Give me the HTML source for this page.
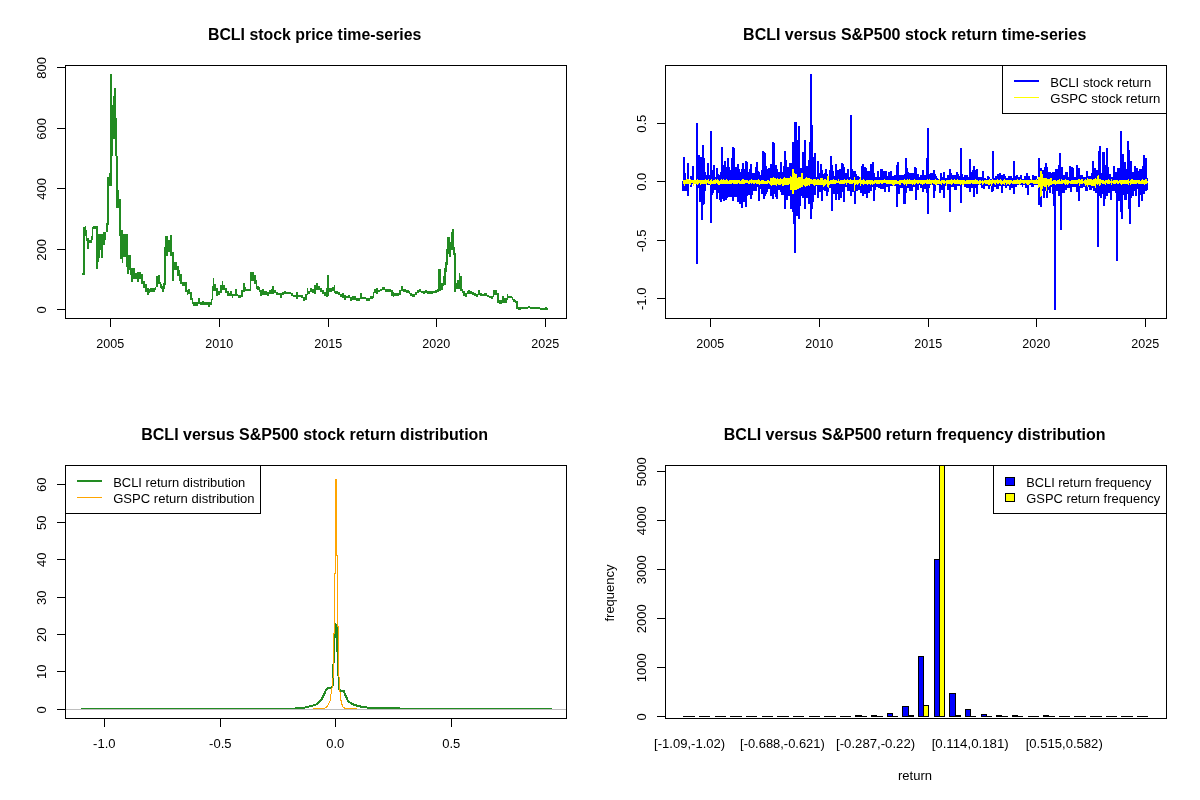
<!DOCTYPE html>
<html lang="en"><head><meta charset="utf-8"><title>BCLI versus S&amp;P500</title>
<style>
html,body{margin:0;padding:0;background:#fff;}
body{width:1200px;height:800px;overflow:hidden;}
svg{display:block;}
text{font-family:"Liberation Sans",Arial,sans-serif;fill:#000;}
.ax{font-size:13px;}
.ti{font-size:15.94px;font-weight:bold;}
</style></head><body>
<svg width="1200" height="800" viewBox="0 0 1200 800">
<rect x="0" y="0" width="1200" height="800" fill="#fff"/>
<g shape-rendering="crispEdges">
<path fill="#228B22" d="M82 273h1v2h-1zM83 227h2v48h-2zM85 226h1v10h-1zM86 230h1v11h-1zM87 238h2v11h-2zM89 240h2v3h-2zM91 236h1v7h-1zM92 227h1v13h-1zM93 226h4v3h-4zM96 226h2v43h-2zM98 234h1v28h-1zM99 234h1v24h-1zM100 234h1v16h-1zM101 234h2v24h-2zM103 232h2v13h-2zM105 232h1v8h-1zM106 223h2v9h-2zM107 177h2v48h-2zM109 173h3v13h-3zM110 74h2v99h-2zM112 105h1v51h-1zM113 96h1v43h-1zM114 88h2v51h-2zM115 139h1v17h-1zM116 118h1v38h-1zM116 156h2v34h-2zM116 190h3v18h-3zM119 199h2v37h-2zM120 230h2v29h-2zM122 230h1v33h-1zM123 234h4v23h-4zM126 234h2v33h-2zM127 255h2v19h-2zM129 255h2v15h-2zM130 262h1v13h-1zM131 268h2v14h-2zM133 268h2v11h-2zM135 273h2v6h-2zM137 272h2v10h-2zM139 272h2v7h-2zM141 274h2v10h-2zM143 281h2v7h-2zM145 284h2v8h-2zM147 288h2v7h-2zM149 289h1v4h-1zM150 288h5v4h-5zM155 287h1v3h-1zM156 276h2v11h-2zM158 275h2v9h-2zM160 282h1v6h-1zM161 284h1v5h-1zM162 286h2v6h-2zM163 283h2v6h-2zM164 247h2v38h-2zM165 236h3v20h-3zM168 240h2v12h-2zM170 235h2v21h-2zM172 252h2v29h-2zM174 262h3v8h-3zM177 266h2v10h-2zM179 270h1v11h-1zM180 274h2v10h-2zM182 282h3v4h-3zM185 282h2v10h-2zM187 290h1v5h-1zM188 289h2v5h-2zM190 292h2v8h-2zM192 298h1v6h-1zM193 302h5v4h-5zM198 298h2v6h-2zM200 302h8v3h-8zM202 301h2v3h-2zM208 302h2v5h-2zM210 302h1v3h-1zM211 299h1v6h-1zM212 286h1v14h-1zM213 278h1v13h-1zM214 284h2v7h-2zM216 288h2v8h-2zM218 291h2v4h-2zM220 285h2v8h-2zM222 281h1v9h-1zM223 285h2v5h-2zM225 288h2v5h-2zM227 291h2v5h-2zM229 293h2v3h-2zM230 291h2v5h-2zM232 294h1v4h-1zM233 294h2v2h-2zM235 289h2v7h-2zM237 294h1v2h-1zM238 295h3v3h-3zM241 290h2v7h-2zM243 283h2v9h-2zM245 287h1v4h-1zM246 289h4v2h-4zM250 272h1v19h-1zM251 272h3v9h-3zM254 275h2v9h-2zM256 280h1v9h-1zM257 286h2v4h-2zM259 287h1v5h-1zM260 290h2v6h-2zM262 289h2v6h-2zM264 291h3v4h-3zM267 292h2v4h-2zM269 290h2v4h-2zM271 289h1v5h-1zM272 286h2v8h-2zM274 290h2v3h-2zM276 292h2v3h-2zM278 293h2v2h-2zM280 293h2v5h-2zM282 292h2v3h-2zM284 291h2v3h-2zM286 292h5v2h-5zM291 293h2v3h-2zM293 295h3v2h-3zM296 292h2v7h-2zM298 295h3v2h-3zM301 295h2v3h-2zM303 297h2v4h-2zM305 294h2v6h-2zM307 288h1v7h-1zM308 291h2v3h-2zM310 288h2v4h-2zM312 289h2v4h-2zM314 285h2v9h-2zM316 283h2v7h-2zM318 286h2v4h-2zM320 288h2v4h-2zM322 290h2v4h-2zM324 292h2v4h-2zM326 288h2v9h-2zM327 275h2v21h-2zM329 288h3v4h-3zM332 287h2v4h-2zM334 285h1v8h-1zM335 291h3v3h-3zM338 292h2v3h-2zM340 294h2v3h-2zM342 293h2v5h-2zM344 295h2v5h-2zM346 296h2v2h-2zM348 295h2v3h-2zM350 297h2v4h-2zM352 296h4v4h-4zM356 298h4v3h-4zM360 293h2v6h-2zM362 297h4v2h-4zM366 298h4v3h-4zM370 296h3v3h-3zM373 292h1v6h-1zM374 289h2v4h-2zM376 288h2v6h-2zM378 290h2v2h-2zM380 289h2v2h-2zM382 287h3v3h-3zM385 289h6v3h-6zM391 290h2v6h-2zM393 292h1v5h-1zM394 293h2v3h-2zM396 293h3v3h-3zM399 290h2v5h-2zM401 286h2v5h-2zM403 289h3v3h-3zM406 290h3v3h-3zM409 291h1v3h-1zM410 293h2v3h-2zM412 294h3v3h-3zM415 292h2v3h-2zM417 290h2v3h-2zM419 289h2v3h-2zM421 291h2v2h-2zM423 291h2v3h-2zM425 290h2v3h-2zM427 291h4v3h-4zM431 291h2v3h-2zM433 291h2v2h-2zM435 290h2v3h-2zM437 289h2v3h-2zM438 269h3v22h-3zM441 283h2v7h-2zM443 276h1v10h-1zM444 268h2v17h-2zM445 262h2v10h-2zM446 249h2v16h-2zM447 237h3v17h-3zM449 242h2v15h-2zM451 232h2v18h-2zM452 229h2v18h-2zM453 247h2v8h-2zM454 253h2v39h-2zM456 283h2v6h-2zM457 280h2v9h-2zM459 273h1v16h-1zM460 276h2v15h-2zM462 289h1v4h-1zM463 291h2v5h-2zM465 293h2v4h-2zM467 291h1v3h-1zM468 290h2v4h-2zM470 291h2v3h-2zM472 292h2v3h-2zM474 293h2v3h-2zM476 294h2v3h-2zM478 290h2v5h-2zM480 293h2v3h-2zM482 294h2v2h-2zM484 293h3v3h-3zM487 295h2v2h-2zM489 296h2v2h-2zM491 296h2v3h-2zM493 290h1v7h-1zM494 290h3v5h-3zM497 293h2v10h-2zM499 300h3v4h-3zM502 296h2v7h-2zM504 298h3v5h-3zM507 294h1v6h-1zM508 296h4v2h-4zM512 297h1v3h-1zM513 299h2v3h-2zM515 300h1v3h-1zM516 301h2v8h-2zM518 307h3v3h-3zM521 307h7v2h-7zM528 306h2v2h-2zM530 307h10v2h-10zM540 308h8v2h-8zM545 307h2v3h-2z"/>
<rect x="65.5" y="65.5" width="501" height="253" fill="none" stroke="#000" stroke-width="1"/>
<rect x="57" y="309" width="9" height="1" fill="#000"/>
<text class="ax" transform="translate(46.4 309.8) rotate(-90)" text-anchor="middle">0</text>
<rect x="57" y="249" width="9" height="1" fill="#000"/>
<text class="ax" transform="translate(46.4 249.8) rotate(-90)" text-anchor="middle">200</text>
<rect x="57" y="188" width="9" height="1" fill="#000"/>
<text class="ax" transform="translate(46.4 188.8) rotate(-90)" text-anchor="middle">400</text>
<rect x="57" y="128" width="9" height="1" fill="#000"/>
<text class="ax" transform="translate(46.4 128.8) rotate(-90)" text-anchor="middle">600</text>
<rect x="57" y="67" width="9" height="1" fill="#000"/>
<text class="ax" transform="translate(46.4 67.8) rotate(-90)" text-anchor="middle">800</text>
<rect x="110" y="318" width="1" height="9" fill="#000"/>
<text class="ax" x="110.3" y="347.9" text-anchor="middle" textLength="27.9" lengthAdjust="spacingAndGlyphs">2005</text>
<rect x="219" y="318" width="1" height="9" fill="#000"/>
<text class="ax" x="219.3" y="347.9" text-anchor="middle" textLength="27.9" lengthAdjust="spacingAndGlyphs">2010</text>
<rect x="328" y="318" width="1" height="9" fill="#000"/>
<text class="ax" x="328.3" y="347.9" text-anchor="middle" textLength="27.9" lengthAdjust="spacingAndGlyphs">2015</text>
<rect x="436" y="318" width="1" height="9" fill="#000"/>
<text class="ax" x="436.3" y="347.9" text-anchor="middle" textLength="27.9" lengthAdjust="spacingAndGlyphs">2020</text>
<rect x="545" y="318" width="1" height="9" fill="#000"/>
<text class="ax" x="545.3" y="347.9" text-anchor="middle" textLength="27.9" lengthAdjust="spacingAndGlyphs">2025</text>
<path fill="#0000FF" d="M682 181h1v10h-1zM683 157h1v34h-1zM684 157h1v34h-1zM685 173h1v18h-1zM686 180h1v11h-1zM687 163h1v33h-1zM688 163h1v33h-1zM689 180h1v3h-1zM690 176h1v11h-1zM691 176h1v11h-1zM692 166h1v18h-1zM693 166h1v18h-1zM694 180h1v4h-1zM695 180h1v4h-1zM696 123h1v141h-1zM697 123h1v141h-1zM698 155h1v33h-1zM699 155h1v47h-1zM700 157h1v45h-1zM701 157h1v63h-1zM702 145h1v75h-1zM703 145h1v60h-1zM704 158h1v46h-1zM705 172h1v19h-1zM706 175h1v10h-1zM707 163h1v22h-1zM708 163h1v22h-1zM709 175h1v10h-1zM710 131h1v92h-1zM711 131h1v92h-1zM712 170h1v25h-1zM713 165h1v28h-1zM714 165h1v25h-1zM715 177h1v13h-1zM716 168h1v31h-1zM717 168h1v31h-1zM718 174h1v19h-1zM719 175h1v25h-1zM720 172h1v30h-1zM721 147h1v55h-1zM722 147h1v52h-1zM723 165h1v36h-1zM724 161h1v40h-1zM725 161h1v39h-1zM726 167h1v33h-1zM727 158h1v40h-1zM728 158h1v39h-1zM729 167h1v30h-1zM730 170h1v27h-1zM731 158h1v39h-1zM732 147h1v54h-1zM733 147h1v54h-1zM734 148h1v49h-1zM735 167h1v30h-1zM736 167h1v30h-1zM737 164h1v38h-1zM738 164h1v38h-1zM739 169h1v35h-1zM740 172h1v32h-1zM741 169h1v39h-1zM742 163h1v45h-1zM743 163h1v39h-1zM744 169h1v33h-1zM745 161h1v46h-1zM746 161h1v46h-1zM747 162h1v34h-1zM748 172h1v23h-1zM749 169h1v26h-1zM750 164h1v35h-1zM751 164h1v35h-1zM752 173h1v22h-1zM753 173h1v18h-1zM754 173h1v18h-1zM755 167h1v24h-1zM756 162h1v29h-1zM757 162h1v25h-1zM758 171h1v30h-1zM759 172h1v29h-1zM760 175h1v14h-1zM761 170h1v24h-1zM762 151h1v43h-1zM763 151h1v48h-1zM764 152h1v47h-1zM765 153h1v43h-1zM766 166h1v28h-1zM767 169h1v23h-1zM768 168h1v21h-1zM769 168h1v21h-1zM770 164h1v32h-1zM771 164h1v32h-1zM772 142h1v57h-1zM773 142h1v57h-1zM774 143h1v51h-1zM775 165h1v32h-1zM776 165h1v34h-1zM777 169h1v30h-1zM778 172h1v18h-1zM779 172h1v18h-1zM780 162h1v30h-1zM781 162h1v33h-1zM782 172h1v23h-1zM783 166h1v29h-1zM784 151h1v58h-1zM785 151h1v58h-1zM786 160h1v40h-1zM787 167h1v33h-1zM788 167h1v29h-1zM789 163h1v33h-1zM790 163h1v46h-1zM791 163h1v46h-1zM792 142h1v70h-1zM793 142h1v82h-1zM794 122h1v131h-1zM795 122h1v131h-1zM796 122h1v94h-1zM797 140h1v76h-1zM798 126h1v93h-1zM799 126h1v93h-1zM800 168h1v38h-1zM801 168h1v28h-1zM802 152h1v46h-1zM803 152h1v46h-1zM804 140h1v69h-1zM805 140h1v69h-1zM806 166h1v32h-1zM807 166h1v32h-1zM808 160h1v44h-1zM809 142h1v62h-1zM810 74h1v145h-1zM811 74h1v145h-1zM812 125h1v84h-1zM813 157h1v45h-1zM814 153h1v42h-1zM815 153h1v42h-1zM816 177h1v9h-1zM817 161h1v37h-1zM818 161h1v37h-1zM819 173h1v19h-1zM820 164h1v28h-1zM821 164h1v37h-1zM822 170h1v31h-1zM823 174h1v16h-1zM824 173h1v18h-1zM825 169h1v22h-1zM826 169h1v27h-1zM827 174h1v22h-1zM828 176h1v16h-1zM829 170h1v18h-1zM830 156h1v32h-1zM831 156h1v55h-1zM832 165h1v46h-1zM833 171h1v23h-1zM834 176h1v18h-1zM835 164h1v36h-1zM836 164h1v36h-1zM837 170h1v24h-1zM838 170h1v30h-1zM839 169h1v31h-1zM840 169h1v29h-1zM841 163h1v35h-1zM842 163h1v29h-1zM843 164h1v38h-1zM844 167h1v35h-1zM845 173h1v14h-1zM846 173h1v14h-1zM847 169h1v22h-1zM848 169h1v22h-1zM849 177h1v14h-1zM850 115h1v81h-1zM851 115h1v81h-1zM852 169h1v23h-1zM853 171h1v21h-1zM854 171h1v33h-1zM855 171h1v33h-1zM856 174h1v17h-1zM857 176h1v15h-1zM858 176h1v14h-1zM859 177h1v13h-1zM860 177h1v16h-1zM861 166h1v27h-1zM862 164h1v32h-1zM863 164h1v32h-1zM864 167h1v27h-1zM865 167h1v27h-1zM866 168h1v30h-1zM867 171h1v27h-1zM868 171h1v22h-1zM869 171h1v22h-1zM870 164h1v27h-1zM871 164h1v27h-1zM872 162h1v25h-1zM873 162h1v39h-1zM874 173h1v28h-1zM875 177h1v13h-1zM876 177h1v10h-1zM877 171h1v16h-1zM878 171h1v17h-1zM879 177h1v11h-1zM880 169h1v20h-1zM881 169h1v20h-1zM882 169h1v20h-1zM883 171h1v18h-1zM884 171h1v21h-1zM885 171h1v21h-1zM886 171h1v16h-1zM887 176h1v11h-1zM888 172h1v20h-1zM889 172h1v20h-1zM890 171h1v15h-1zM891 171h1v15h-1zM892 176h1v10h-1zM893 176h1v10h-1zM894 175h1v11h-1zM895 175h1v11h-1zM896 165h1v42h-1zM897 162h1v45h-1zM898 162h1v32h-1zM899 175h1v19h-1zM900 175h1v13h-1zM901 175h1v13h-1zM902 175h1v13h-1zM903 175h1v29h-1zM904 174h1v30h-1zM905 158h1v46h-1zM906 158h1v35h-1zM907 168h1v20h-1zM908 172h1v16h-1zM909 173h1v18h-1zM910 173h1v18h-1zM911 173h1v18h-1zM912 173h1v18h-1zM913 173h1v14h-1zM914 167h1v20h-1zM915 167h1v33h-1zM916 168h1v32h-1zM917 174h1v16h-1zM918 174h1v16h-1zM919 177h1v8h-1zM920 175h1v13h-1zM921 175h1v13h-1zM922 170h1v22h-1zM923 170h1v22h-1zM924 175h1v14h-1zM925 175h1v14h-1zM926 158h1v35h-1zM927 128h1v86h-1zM928 128h1v86h-1zM929 174h1v14h-1zM930 173h1v12h-1zM931 173h1v12h-1zM932 173h1v12h-1zM933 170h1v28h-1zM934 170h1v28h-1zM935 174h1v17h-1zM936 176h1v9h-1zM937 178h1v7h-1zM938 179h1v6h-1zM939 179h1v14h-1zM940 173h1v20h-1zM941 173h1v17h-1zM942 177h1v13h-1zM943 172h1v26h-1zM944 172h1v26h-1zM945 178h1v8h-1zM946 178h1v8h-1zM947 175h1v15h-1zM948 175h1v15h-1zM949 169h1v43h-1zM950 169h1v43h-1zM951 173h1v14h-1zM952 175h1v12h-1zM953 175h1v12h-1zM954 175h1v15h-1zM955 175h1v15h-1zM956 172h1v18h-1zM957 172h1v14h-1zM958 174h1v12h-1zM959 176h1v10h-1zM960 148h1v55h-1zM961 148h1v55h-1zM962 174h1v11h-1zM963 177h1v8h-1zM964 175h1v12h-1zM965 175h1v12h-1zM966 175h1v13h-1zM967 175h1v13h-1zM968 177h1v11h-1zM969 159h1v33h-1zM970 159h1v33h-1zM971 172h1v16h-1zM972 170h1v18h-1zM973 166h1v31h-1zM974 166h1v31h-1zM975 170h1v18h-1zM976 169h1v25h-1zM977 169h1v25h-1zM978 177h1v8h-1zM979 177h1v8h-1zM980 177h1v8h-1zM981 177h1v11h-1zM982 171h1v17h-1zM983 171h1v18h-1zM984 178h1v11h-1zM985 178h1v8h-1zM986 179h1v7h-1zM987 176h1v10h-1zM988 176h1v13h-1zM989 177h1v12h-1zM990 179h1v7h-1zM991 179h1v13h-1zM992 151h1v41h-1zM993 151h1v40h-1zM994 178h1v9h-1zM995 176h1v11h-1zM996 176h1v13h-1zM997 174h1v15h-1zM998 174h1v15h-1zM999 173h1v13h-1zM1000 173h1v13h-1zM1001 175h1v18h-1zM1002 175h1v18h-1zM1003 174h1v12h-1zM1004 174h1v12h-1zM1005 176h1v12h-1zM1006 178h1v10h-1zM1007 178h1v8h-1zM1008 176h1v10h-1zM1009 176h1v14h-1zM1010 176h1v14h-1zM1011 176h1v12h-1zM1012 178h1v10h-1zM1013 161h1v33h-1zM1014 161h1v33h-1zM1015 176h1v11h-1zM1016 175h1v12h-1zM1017 175h1v10h-1zM1018 177h1v8h-1zM1019 177h1v8h-1zM1020 175h1v10h-1zM1021 175h1v10h-1zM1022 179h1v8h-1zM1023 179h1v6h-1zM1024 176h1v9h-1zM1025 176h1v12h-1zM1026 173h1v15h-1zM1027 173h1v22h-1zM1028 176h1v19h-1zM1029 176h1v9h-1zM1030 179h1v6h-1zM1031 179h1v8h-1zM1032 175h1v12h-1zM1033 175h1v12h-1zM1034 176h1v9h-1zM1035 176h1v9h-1zM1036 176h1v9h-1zM1037 179h1v6h-1zM1038 158h1v47h-1zM1039 158h1v47h-1zM1040 168h1v39h-1zM1041 168h1v39h-1zM1042 170h1v21h-1zM1043 170h1v28h-1zM1044 167h1v31h-1zM1045 163h1v28h-1zM1046 163h1v35h-1zM1047 167h1v31h-1zM1048 172h1v18h-1zM1049 172h1v21h-1zM1050 172h1v21h-1zM1051 173h1v14h-1zM1052 172h1v22h-1zM1053 172h1v34h-1zM1054 172h1v138h-1zM1055 169h1v141h-1zM1056 169h1v22h-1zM1057 169h1v22h-1zM1058 165h1v31h-1zM1059 153h1v43h-1zM1060 153h1v77h-1zM1061 167h1v63h-1zM1062 167h1v26h-1zM1063 175h1v18h-1zM1064 175h1v18h-1zM1065 172h1v18h-1zM1066 172h1v18h-1zM1067 172h1v16h-1zM1068 177h1v11h-1zM1069 166h1v22h-1zM1070 166h1v26h-1zM1071 167h1v25h-1zM1072 167h1v20h-1zM1073 168h1v19h-1zM1074 177h1v10h-1zM1075 177h1v10h-1zM1076 165h1v27h-1zM1077 165h1v27h-1zM1078 168h1v33h-1zM1079 168h1v33h-1zM1080 175h1v13h-1zM1081 175h1v13h-1zM1082 175h1v13h-1zM1083 177h1v10h-1zM1084 177h1v10h-1zM1085 177h1v14h-1zM1086 171h1v20h-1zM1087 171h1v20h-1zM1088 176h1v11h-1zM1089 176h1v14h-1zM1090 176h1v14h-1zM1091 173h1v17h-1zM1092 161h1v27h-1zM1093 161h1v30h-1zM1094 168h1v23h-1zM1095 168h1v25h-1zM1096 170h1v23h-1zM1097 170h1v77h-1zM1098 151h1v96h-1zM1099 146h1v50h-1zM1100 146h1v52h-1zM1101 173h1v25h-1zM1102 152h1v42h-1zM1103 152h1v54h-1zM1104 152h1v54h-1zM1105 165h1v34h-1zM1106 148h1v48h-1zM1107 148h1v48h-1zM1108 167h1v26h-1zM1109 174h1v19h-1zM1110 174h1v26h-1zM1111 177h1v23h-1zM1112 177h1v14h-1zM1113 166h1v25h-1zM1114 166h1v25h-1zM1115 172h1v21h-1zM1116 172h1v89h-1zM1117 168h1v93h-1zM1118 168h1v33h-1zM1119 168h1v33h-1zM1120 131h1v81h-1zM1121 131h1v88h-1zM1122 154h1v65h-1zM1123 154h1v41h-1zM1124 162h1v38h-1zM1125 162h1v38h-1zM1126 169h1v31h-1zM1127 141h1v53h-1zM1128 141h1v68h-1zM1129 150h1v74h-1zM1130 161h1v63h-1zM1131 161h1v37h-1zM1132 172h1v24h-1zM1133 172h1v24h-1zM1134 166h1v25h-1zM1135 166h1v30h-1zM1136 168h1v28h-1zM1137 168h1v21h-1zM1138 171h1v36h-1zM1139 169h1v38h-1zM1140 169h1v26h-1zM1141 169h1v32h-1zM1142 166h1v35h-1zM1143 155h1v39h-1zM1144 155h1v39h-1zM1145 158h1v33h-1zM1146 158h1v33h-1zM1147 178h1v12h-1z"/>
<path fill="#FFFF00" d="M683 180h1v4h-1zM684 180h1v6h-1zM685 180h1v4h-1zM686 179h1v5h-1zM687 179h1v5h-1zM688 179h1v5h-1zM689 180h1v4h-1zM690 179h1v6h-1zM691 180h1v3h-1zM692 180h1v3h-1zM693 180h1v6h-1zM694 180h1v4h-1zM695 180h1v4h-1zM696 180h1v4h-1zM697 179h1v6h-1zM698 180h1v4h-1zM699 180h1v3h-1zM700 180h1v5h-1zM701 180h1v4h-1zM702 180h1v4h-1zM703 180h1v4h-1zM704 180h1v4h-1zM705 179h1v5h-1zM706 180h1v5h-1zM707 180h1v3h-1zM708 179h1v5h-1zM709 181h1v3h-1zM710 180h1v5h-1zM711 179h1v5h-1zM712 181h1v3h-1zM713 180h1v4h-1zM714 180h1v4h-1zM715 179h1v5h-1zM716 180h1v3h-1zM717 179h1v5h-1zM718 180h1v5h-1zM719 181h1v4h-1zM720 180h1v4h-1zM721 179h1v5h-1zM722 180h1v4h-1zM723 179h1v5h-1zM724 180h1v4h-1zM725 180h1v4h-1zM726 179h1v5h-1zM727 180h1v4h-1zM728 181h1v3h-1zM729 180h1v4h-1zM730 180h1v4h-1zM731 180h1v4h-1zM732 180h1v3h-1zM733 180h1v4h-1zM734 180h1v4h-1zM735 180h1v4h-1zM736 180h1v4h-1zM737 180h1v4h-1zM738 180h1v3h-1zM739 180h1v4h-1zM740 181h1v3h-1zM741 180h1v4h-1zM742 179h1v5h-1zM743 179h1v5h-1zM744 180h1v4h-1zM745 180h1v3h-1zM746 180h1v3h-1zM747 180h1v3h-1zM748 181h1v3h-1zM749 180h1v4h-1zM750 180h1v3h-1zM751 179h1v5h-1zM752 180h1v3h-1zM753 180h1v4h-1zM754 180h1v4h-1zM755 180h1v3h-1zM756 180h1v4h-1zM757 180h1v4h-1zM758 179h1v5h-1zM759 180h1v5h-1zM760 181h1v3h-1zM761 180h1v4h-1zM762 180h1v4h-1zM763 180h1v4h-1zM764 181h1v3h-1zM765 181h1v3h-1zM766 181h1v3h-1zM767 180h1v4h-1zM768 180h1v3h-1zM769 181h1v3h-1zM770 178h1v7h-1zM771 178h1v8h-1zM772 178h1v7h-1zM773 177h1v8h-1zM774 178h1v7h-1zM775 178h1v7h-1zM776 179h1v7h-1zM777 178h1v6h-1zM778 179h1v6h-1zM779 179h1v6h-1zM780 178h1v7h-1zM781 179h1v5h-1zM782 179h1v7h-1zM783 178h1v8h-1zM784 177h1v8h-1zM785 178h1v7h-1zM786 178h1v7h-1zM787 178h1v7h-1zM788 178h1v7h-1zM789 178h1v6h-1zM790 176h1v14h-1zM791 177h1v13h-1zM792 169h1v25h-1zM793 169h1v25h-1zM794 173h1v17h-1zM795 174h1v16h-1zM796 174h1v16h-1zM797 178h1v11h-1zM798 177h1v12h-1zM799 177h1v11h-1zM800 177h1v11h-1zM801 173h1v14h-1zM802 173h1v14h-1zM803 179h1v6h-1zM804 179h1v7h-1zM805 178h1v9h-1zM806 177h1v9h-1zM807 178h1v8h-1zM808 178h1v7h-1zM809 178h1v8h-1zM810 179h1v5h-1zM811 179h1v5h-1zM812 180h1v4h-1zM813 179h1v6h-1zM814 179h1v7h-1zM815 179h1v6h-1zM816 180h1v5h-1zM817 179h1v6h-1zM818 179h1v6h-1zM819 180h1v5h-1zM820 178h1v7h-1zM821 178h1v7h-1zM822 178h1v7h-1zM823 180h1v7h-1zM824 179h1v7h-1zM825 179h1v6h-1zM826 180h1v4h-1zM827 176h1v11h-1zM828 176h1v12h-1zM829 181h1v4h-1zM830 180h1v4h-1zM831 180h1v4h-1zM832 180h1v4h-1zM833 179h1v5h-1zM834 180h1v4h-1zM835 180h1v4h-1zM836 180h1v3h-1zM837 181h1v2h-1zM838 179h1v4h-1zM839 181h1v3h-1zM840 180h1v4h-1zM841 180h1v4h-1zM842 180h1v4h-1zM843 180h1v4h-1zM844 179h1v5h-1zM845 180h1v3h-1zM846 180h1v5h-1zM847 179h1v4h-1zM848 180h1v3h-1zM849 180h1v4h-1zM850 179h1v5h-1zM851 180h1v4h-1zM852 180h1v4h-1zM853 180h1v3h-1zM854 177h1v14h-1zM855 180h1v5h-1zM856 180h1v4h-1zM857 180h1v5h-1zM858 180h1v4h-1zM859 179h1v4h-1zM860 177h1v9h-1zM861 180h1v4h-1zM862 180h1v4h-1zM863 179h1v6h-1zM864 180h1v4h-1zM865 181h1v3h-1zM866 180h1v4h-1zM867 180h1v5h-1zM868 180h1v4h-1zM869 180h1v4h-1zM870 180h1v5h-1zM871 180h1v4h-1zM872 180h1v5h-1zM873 181h1v3h-1zM874 180h1v4h-1zM875 180h1v3h-1zM876 180h1v4h-1zM877 180h1v4h-1zM878 180h1v4h-1zM879 180h1v4h-1zM880 180h1v3h-1zM881 180h1v4h-1zM882 180h1v4h-1zM883 180h1v3h-1zM884 179h1v4h-1zM885 180h1v3h-1zM886 180h1v4h-1zM887 180h1v4h-1zM888 180h1v4h-1zM889 180h1v4h-1zM890 180h1v4h-1zM891 180h1v4h-1zM892 180h1v5h-1zM893 180h1v6h-1zM894 180h1v5h-1zM895 180h1v4h-1zM896 180h1v4h-1zM897 181h1v3h-1zM898 181h1v3h-1zM899 180h1v5h-1zM900 180h1v5h-1zM901 180h1v3h-1zM902 180h1v3h-1zM903 180h1v4h-1zM904 179h1v6h-1zM905 180h1v4h-1zM906 180h1v6h-1zM907 179h1v5h-1zM908 180h1v4h-1zM909 179h1v5h-1zM910 180h1v4h-1zM911 180h1v4h-1zM912 180h1v5h-1zM913 180h1v4h-1zM914 179h1v6h-1zM915 180h1v4h-1zM916 180h1v3h-1zM917 180h1v4h-1zM918 180h1v4h-1zM919 180h1v3h-1zM920 180h1v4h-1zM921 180h1v4h-1zM922 180h1v5h-1zM923 180h1v4h-1zM924 180h1v4h-1zM925 180h1v3h-1zM926 180h1v4h-1zM927 179h1v5h-1zM928 180h1v4h-1zM929 179h1v5h-1zM930 180h1v4h-1zM931 180h1v5h-1zM932 180h1v3h-1zM933 180h1v4h-1zM934 180h1v4h-1zM935 179h1v6h-1zM936 180h1v5h-1zM937 180h1v4h-1zM938 180h1v4h-1zM939 179h1v5h-1zM940 181h1v3h-1zM941 180h1v5h-1zM942 180h1v3h-1zM943 180h1v4h-1zM944 180h1v4h-1zM945 181h1v2h-1zM946 180h1v6h-1zM947 180h1v4h-1zM948 180h1v4h-1zM949 180h1v4h-1zM950 180h1v4h-1zM951 179h1v6h-1zM952 180h1v4h-1zM953 180h1v3h-1zM954 179h1v5h-1zM955 180h1v4h-1zM956 180h1v4h-1zM957 179h1v5h-1zM958 180h1v4h-1zM959 180h1v4h-1zM960 180h1v5h-1zM961 180h1v4h-1zM962 180h1v5h-1zM963 180h1v5h-1zM964 180h1v4h-1zM965 181h1v3h-1zM966 180h1v4h-1zM967 180h1v4h-1zM968 180h1v4h-1zM969 180h1v4h-1zM970 180h1v4h-1zM971 180h1v3h-1zM972 180h1v4h-1zM973 180h1v4h-1zM974 180h1v4h-1zM975 179h1v5h-1zM976 180h1v4h-1zM977 180h1v4h-1zM978 181h1v3h-1zM979 180h1v5h-1zM980 180h1v4h-1zM981 181h1v2h-1zM982 180h1v5h-1zM983 181h1v3h-1zM984 180h1v3h-1zM985 180h1v4h-1zM986 180h1v4h-1zM987 180h1v4h-1zM988 180h1v5h-1zM989 179h1v6h-1zM990 180h1v4h-1zM991 180h1v6h-1zM992 179h1v5h-1zM993 180h1v3h-1zM994 180h1v4h-1zM995 180h1v5h-1zM996 180h1v3h-1zM997 179h1v5h-1zM998 180h1v4h-1zM999 180h1v3h-1zM1000 179h1v5h-1zM1001 180h1v5h-1zM1002 181h1v3h-1zM1003 180h1v4h-1zM1004 179h1v6h-1zM1005 180h1v3h-1zM1006 180h1v5h-1zM1007 180h1v4h-1zM1008 180h1v4h-1zM1009 180h1v5h-1zM1010 180h1v4h-1zM1011 180h1v3h-1zM1012 181h1v3h-1zM1013 180h1v4h-1zM1014 180h1v4h-1zM1015 180h1v4h-1zM1016 180h1v4h-1zM1017 179h1v5h-1zM1018 180h1v4h-1zM1019 180h1v5h-1zM1020 179h1v5h-1zM1021 180h1v3h-1zM1022 180h1v3h-1zM1023 180h1v4h-1zM1024 180h1v4h-1zM1025 180h1v3h-1zM1026 180h1v4h-1zM1027 180h1v5h-1zM1028 180h1v5h-1zM1029 180h1v4h-1zM1030 180h1v3h-1zM1031 179h1v4h-1zM1032 180h1v3h-1zM1033 180h1v4h-1zM1034 180h1v4h-1zM1035 180h1v4h-1zM1036 179h1v5h-1zM1037 180h1v4h-1zM1038 177h1v11h-1zM1039 177h1v10h-1zM1040 171h1v26h-1zM1041 171h1v25h-1zM1042 174h1v15h-1zM1043 178h1v8h-1zM1044 178h1v9h-1zM1045 178h1v9h-1zM1046 178h1v13h-1zM1047 179h1v6h-1zM1048 179h1v8h-1zM1049 179h1v7h-1zM1050 178h1v7h-1zM1051 178h1v7h-1zM1052 181h1v3h-1zM1053 180h1v4h-1zM1054 180h1v4h-1zM1055 180h1v5h-1zM1056 181h1v3h-1zM1057 180h1v4h-1zM1058 180h1v4h-1zM1059 179h1v5h-1zM1060 181h1v3h-1zM1061 179h1v5h-1zM1062 180h1v4h-1zM1063 180h1v3h-1zM1064 180h1v4h-1zM1065 179h1v6h-1zM1066 180h1v4h-1zM1067 180h1v5h-1zM1068 180h1v4h-1zM1069 181h1v2h-1zM1070 181h1v3h-1zM1071 180h1v4h-1zM1072 180h1v4h-1zM1073 180h1v4h-1zM1074 180h1v4h-1zM1075 180h1v4h-1zM1076 180h1v4h-1zM1077 180h1v4h-1zM1078 179h1v4h-1zM1079 179h1v7h-1zM1080 180h1v4h-1zM1081 179h1v5h-1zM1082 179h1v5h-1zM1083 181h1v2h-1zM1084 180h1v4h-1zM1085 179h1v7h-1zM1086 180h1v5h-1zM1087 178h1v9h-1zM1088 179h1v6h-1zM1089 179h1v6h-1zM1090 179h1v6h-1zM1091 179h1v7h-1zM1092 180h1v6h-1zM1093 179h1v7h-1zM1094 179h1v7h-1zM1095 178h1v10h-1zM1096 179h1v5h-1zM1097 176h1v9h-1zM1098 175h1v9h-1zM1099 179h1v7h-1zM1100 179h1v6h-1zM1101 180h1v3h-1zM1102 180h1v4h-1zM1103 180h1v4h-1zM1104 181h1v3h-1zM1105 180h1v5h-1zM1106 180h1v3h-1zM1107 180h1v4h-1zM1108 179h1v5h-1zM1109 180h1v4h-1zM1110 181h1v2h-1zM1111 179h1v6h-1zM1112 181h1v2h-1zM1113 180h1v4h-1zM1114 180h1v4h-1zM1115 180h1v4h-1zM1116 180h1v3h-1zM1117 180h1v4h-1zM1118 181h1v3h-1zM1119 180h1v3h-1zM1120 180h1v4h-1zM1121 180h1v5h-1zM1122 180h1v4h-1zM1123 180h1v4h-1zM1124 180h1v4h-1zM1125 180h1v4h-1zM1126 180h1v4h-1zM1127 180h1v4h-1zM1128 179h1v6h-1zM1129 181h1v2h-1zM1130 180h1v5h-1zM1131 179h1v5h-1zM1132 179h1v5h-1zM1133 180h1v4h-1zM1134 180h1v4h-1zM1135 180h1v4h-1zM1136 180h1v4h-1zM1137 180h1v3h-1zM1138 180h1v4h-1zM1139 180h1v4h-1zM1140 181h1v3h-1zM1141 180h1v4h-1zM1142 179h1v5h-1zM1143 180h1v4h-1zM1144 180h1v5h-1zM1145 179h1v5h-1zM1146 179h1v5h-1zM1147 181h1v2h-1z"/>
<rect x="665.5" y="65.5" width="501" height="253" fill="none" stroke="#000" stroke-width="1"/>
<rect x="657" y="123" width="9" height="1" fill="#000"/>
<text class="ax" transform="translate(646.4 123.8) rotate(-90)" text-anchor="middle">0.5</text>
<rect x="657" y="181" width="9" height="1" fill="#000"/>
<text class="ax" transform="translate(646.4 181.8) rotate(-90)" text-anchor="middle">0.0</text>
<rect x="657" y="240" width="9" height="1" fill="#000"/>
<text class="ax" transform="translate(646.4 240.8) rotate(-90)" text-anchor="middle">-0.5</text>
<rect x="657" y="298" width="9" height="1" fill="#000"/>
<text class="ax" transform="translate(646.4 298.8) rotate(-90)" text-anchor="middle">-1.0</text>
<rect x="710" y="318" width="1" height="9" fill="#000"/>
<text class="ax" x="710.3" y="347.9" text-anchor="middle" textLength="27.9" lengthAdjust="spacingAndGlyphs">2005</text>
<rect x="819" y="318" width="1" height="9" fill="#000"/>
<text class="ax" x="819.3" y="347.9" text-anchor="middle" textLength="27.9" lengthAdjust="spacingAndGlyphs">2010</text>
<rect x="928" y="318" width="1" height="9" fill="#000"/>
<text class="ax" x="928.3" y="347.9" text-anchor="middle" textLength="27.9" lengthAdjust="spacingAndGlyphs">2015</text>
<rect x="1036" y="318" width="1" height="9" fill="#000"/>
<text class="ax" x="1036.3" y="347.9" text-anchor="middle" textLength="27.9" lengthAdjust="spacingAndGlyphs">2020</text>
<rect x="1145" y="318" width="1" height="9" fill="#000"/>
<text class="ax" x="1145.3" y="347.9" text-anchor="middle" textLength="27.9" lengthAdjust="spacingAndGlyphs">2025</text>
<rect x="1002.5" y="65.5" width="164" height="48" fill="#fff" stroke="#000"/>
<rect x="1014" y="80" width="25" height="2" fill="#0000FF"/>
<rect x="1014" y="97" width="25" height="1" fill="#FFFF00"/>
<text class="ax" x="1050.2" y="86.8" textLength="101" lengthAdjust="spacingAndGlyphs">BCLI stock return</text>
<text class="ax" x="1050.2" y="102.7" textLength="110.2" lengthAdjust="spacingAndGlyphs">GSPC stock return</text>
<polyline fill="none" stroke="#228B22" stroke-width="2" stroke-linejoin="round" points="80.5,708.5 295,708.5 303,708 309,706.5 315.5,705 320,701.5 322,698.5 324.5,693.5 326.5,689 329,687.7 332,687.4 333,684 333.5,664 334.6,636 335.5,624.5 336.5,626 337,640 338,664 339,688.5 340.2,691.3 343.5,690.6 345.3,695 348,701 351.5,703.7 356,705.4 362.7,707 370.6,708 400,708.5 551.5,708.5"/>
<polyline fill="none" stroke="#FFA500" stroke-width="1" stroke-linejoin="round" points="313,709 325.6,708 327.9,705.5 330.1,701 331.2,693 332.6,685 333.5,669 333.5,634 334.5,633 334.5,574 335.5,573 335.5,479.5 336.5,479.5 336.5,555 337.5,556 337.5,626 338.5,627 338.5,668 339.7,689.6 340.8,699.7 342.5,706.5 344.7,708.3 356.5,709"/>
<rect x="66" y="709" width="501" height="1" fill="#BEBEBE"/>
<rect x="65.5" y="465.5" width="501" height="253" fill="none" stroke="#000" stroke-width="1"/>
<rect x="57" y="709" width="9" height="1" fill="#000"/>
<text class="ax" transform="translate(46.4 709.8) rotate(-90)" text-anchor="middle">0</text>
<rect x="57" y="671" width="9" height="1" fill="#000"/>
<text class="ax" transform="translate(46.4 671.8) rotate(-90)" text-anchor="middle">10</text>
<rect x="57" y="634" width="9" height="1" fill="#000"/>
<text class="ax" transform="translate(46.4 634.8) rotate(-90)" text-anchor="middle">20</text>
<rect x="57" y="597" width="9" height="1" fill="#000"/>
<text class="ax" transform="translate(46.4 597.8) rotate(-90)" text-anchor="middle">30</text>
<rect x="57" y="559" width="9" height="1" fill="#000"/>
<text class="ax" transform="translate(46.4 559.8) rotate(-90)" text-anchor="middle">40</text>
<rect x="57" y="522" width="9" height="1" fill="#000"/>
<text class="ax" transform="translate(46.4 522.8) rotate(-90)" text-anchor="middle">50</text>
<rect x="57" y="484" width="9" height="1" fill="#000"/>
<text class="ax" transform="translate(46.4 484.8) rotate(-90)" text-anchor="middle">60</text>
<rect x="104" y="718" width="1" height="9" fill="#000"/>
<text class="ax" x="104.3" y="747.9" text-anchor="middle">-1.0</text>
<rect x="220" y="718" width="1" height="9" fill="#000"/>
<text class="ax" x="220.3" y="747.9" text-anchor="middle">-0.5</text>
<rect x="335" y="718" width="1" height="9" fill="#000"/>
<text class="ax" x="335.3" y="747.9" text-anchor="middle">0.0</text>
<rect x="451" y="718" width="1" height="9" fill="#000"/>
<text class="ax" x="451.3" y="747.9" text-anchor="middle">0.5</text>
<rect x="65.5" y="465.5" width="195" height="48" fill="#fff" stroke="#000"/>
<rect x="77" y="480" width="25" height="2" fill="#228B22"/>
<rect x="77" y="497" width="25" height="1" fill="#FFA500"/>
<text class="ax" x="113.2" y="487" textLength="132.1" lengthAdjust="spacingAndGlyphs">BCLI return distribution</text>
<text class="ax" x="113.2" y="503" textLength="141.4" lengthAdjust="spacingAndGlyphs">GSPC return distribution</text>
<clipPath id="c4"><rect x="665.5" y="465.5" width="501" height="253"/></clipPath>
<g clip-path="url(#c4)">
<line x1="683.0" y1="716.5" x2="690.0" y2="716.5" stroke="#000" stroke-width="1"/>
<line x1="689.0" y1="716.5" x2="695.0" y2="716.5" stroke="#000" stroke-width="1"/>
<line x1="699.0" y1="716.5" x2="705.0" y2="716.5" stroke="#000" stroke-width="1"/>
<line x1="704.0" y1="716.5" x2="710.0" y2="716.5" stroke="#000" stroke-width="1"/>
<line x1="715.0" y1="716.5" x2="721.0" y2="716.5" stroke="#000" stroke-width="1"/>
<line x1="720.0" y1="716.5" x2="726.0" y2="716.5" stroke="#000" stroke-width="1"/>
<line x1="730.0" y1="716.5" x2="737.0" y2="716.5" stroke="#000" stroke-width="1"/>
<line x1="736.0" y1="716.5" x2="742.0" y2="716.5" stroke="#000" stroke-width="1"/>
<line x1="746.0" y1="716.5" x2="752.0" y2="716.5" stroke="#000" stroke-width="1"/>
<line x1="751.0" y1="716.5" x2="757.0" y2="716.5" stroke="#000" stroke-width="1"/>
<line x1="762.0" y1="716.5" x2="768.0" y2="716.5" stroke="#000" stroke-width="1"/>
<line x1="767.0" y1="716.5" x2="773.0" y2="716.5" stroke="#000" stroke-width="1"/>
<line x1="777.0" y1="716.5" x2="783.0" y2="716.5" stroke="#000" stroke-width="1"/>
<line x1="782.0" y1="716.5" x2="789.0" y2="716.5" stroke="#000" stroke-width="1"/>
<line x1="793.0" y1="716.5" x2="799.0" y2="716.5" stroke="#000" stroke-width="1"/>
<line x1="798.0" y1="716.5" x2="804.0" y2="716.5" stroke="#000" stroke-width="1"/>
<line x1="809.0" y1="716.5" x2="815.0" y2="716.5" stroke="#000" stroke-width="1"/>
<line x1="814.0" y1="716.5" x2="820.0" y2="716.5" stroke="#000" stroke-width="1"/>
<line x1="824.0" y1="716.5" x2="830.0" y2="716.5" stroke="#000" stroke-width="1"/>
<line x1="829.0" y1="716.5" x2="836.0" y2="716.5" stroke="#000" stroke-width="1"/>
<line x1="840.0" y1="716.5" x2="846.0" y2="716.5" stroke="#000" stroke-width="1"/>
<line x1="845.0" y1="716.5" x2="851.0" y2="716.5" stroke="#000" stroke-width="1"/>
<rect x="855.5" y="715.5" width="6.0" height="1.0" fill="#0000FF" stroke="#000"/>
<line x1="861.0" y1="716.5" x2="867.0" y2="716.5" stroke="#000" stroke-width="1"/>
<rect x="871.5" y="715.5" width="5.0" height="1.0" fill="#0000FF" stroke="#000"/>
<line x1="876.0" y1="716.5" x2="883.0" y2="716.5" stroke="#000" stroke-width="1"/>
<rect x="887.5" y="713.5" width="5.0" height="3.0" fill="#0000FF" stroke="#000"/>
<line x1="892.0" y1="716.5" x2="898.0" y2="716.5" stroke="#000" stroke-width="1"/>
<rect x="902.5" y="706.5" width="6.0" height="10.0" fill="#0000FF" stroke="#000"/>
<rect x="908.5" y="715.5" width="5.0" height="1.0" fill="#FFFF00" stroke="#000"/>
<rect x="918.5" y="656.5" width="5.0" height="60.0" fill="#0000FF" stroke="#000"/>
<rect x="923.5" y="705.5" width="5.0" height="11.0" fill="#FFFF00" stroke="#000"/>
<rect x="934.5" y="559.5" width="5.0" height="157.0" fill="#0000FF" stroke="#000"/>
<rect x="939.5" y="323.5" width="5.0" height="393.0" fill="#FFFF00" stroke="#000"/>
<rect x="949.5" y="693.5" width="6.0" height="23.0" fill="#0000FF" stroke="#000"/>
<rect x="955.5" y="715.5" width="5.0" height="1.0" fill="#FFFF00" stroke="#000"/>
<rect x="965.5" y="709.5" width="5.0" height="7.0" fill="#0000FF" stroke="#000"/>
<line x1="970.0" y1="716.5" x2="976.0" y2="716.5" stroke="#000" stroke-width="1"/>
<rect x="981.5" y="714.5" width="5.0" height="2.0" fill="#0000FF" stroke="#000"/>
<line x1="986.0" y1="716.5" x2="992.0" y2="716.5" stroke="#000" stroke-width="1"/>
<rect x="996.5" y="715.5" width="5.0" height="1.0" fill="#0000FF" stroke="#000"/>
<line x1="1001.0" y1="716.5" x2="1008.0" y2="716.5" stroke="#000" stroke-width="1"/>
<rect x="1012.5" y="715.5" width="5.0" height="1.0" fill="#0000FF" stroke="#000"/>
<line x1="1017.0" y1="716.5" x2="1023.0" y2="716.5" stroke="#000" stroke-width="1"/>
<line x1="1028.0" y1="716.5" x2="1034.0" y2="716.5" stroke="#000" stroke-width="1"/>
<line x1="1033.0" y1="716.5" x2="1039.0" y2="716.5" stroke="#000" stroke-width="1"/>
<rect x="1043.5" y="715.5" width="5.0" height="1.0" fill="#0000FF" stroke="#000"/>
<line x1="1048.0" y1="716.5" x2="1055.0" y2="716.5" stroke="#000" stroke-width="1"/>
<line x1="1059.0" y1="716.5" x2="1065.0" y2="716.5" stroke="#000" stroke-width="1"/>
<line x1="1064.0" y1="716.5" x2="1070.0" y2="716.5" stroke="#000" stroke-width="1"/>
<line x1="1074.0" y1="716.5" x2="1081.0" y2="716.5" stroke="#000" stroke-width="1"/>
<line x1="1080.0" y1="716.5" x2="1086.0" y2="716.5" stroke="#000" stroke-width="1"/>
<line x1="1090.0" y1="716.5" x2="1096.0" y2="716.5" stroke="#000" stroke-width="1"/>
<line x1="1095.0" y1="716.5" x2="1102.0" y2="716.5" stroke="#000" stroke-width="1"/>
<line x1="1106.0" y1="716.5" x2="1112.0" y2="716.5" stroke="#000" stroke-width="1"/>
<line x1="1111.0" y1="716.5" x2="1117.0" y2="716.5" stroke="#000" stroke-width="1"/>
<line x1="1121.0" y1="716.5" x2="1128.0" y2="716.5" stroke="#000" stroke-width="1"/>
<line x1="1127.0" y1="716.5" x2="1133.0" y2="716.5" stroke="#000" stroke-width="1"/>
<line x1="1137.0" y1="716.5" x2="1143.0" y2="716.5" stroke="#000" stroke-width="1"/>
<line x1="1142.0" y1="716.5" x2="1148.0" y2="716.5" stroke="#000" stroke-width="1"/>
</g>
<rect x="665.5" y="465.5" width="501" height="253" fill="none" stroke="#000" stroke-width="1"/>
<rect x="657" y="716" width="9" height="1" fill="#000"/>
<text class="ax" transform="translate(646.4 716.8) rotate(-90)" text-anchor="middle">0</text>
<rect x="657" y="667" width="9" height="1" fill="#000"/>
<text class="ax" transform="translate(646.4 667.8) rotate(-90)" text-anchor="middle">1000</text>
<rect x="657" y="618" width="9" height="1" fill="#000"/>
<text class="ax" transform="translate(646.4 618.8) rotate(-90)" text-anchor="middle">2000</text>
<rect x="657" y="569" width="9" height="1" fill="#000"/>
<text class="ax" transform="translate(646.4 569.8) rotate(-90)" text-anchor="middle">3000</text>
<rect x="657" y="520" width="9" height="1" fill="#000"/>
<text class="ax" transform="translate(646.4 520.8) rotate(-90)" text-anchor="middle">4000</text>
<rect x="657" y="471" width="9" height="1" fill="#000"/>
<text class="ax" transform="translate(646.4 471.8) rotate(-90)" text-anchor="middle">5000</text>
<text class="ax" x="689.6" y="747.8" text-anchor="middle" textLength="71.1" lengthAdjust="spacingAndGlyphs">[-1.09,-1.02)</text>
<text class="ax" x="782.4" y="747.8" text-anchor="middle" textLength="84.7" lengthAdjust="spacingAndGlyphs">[-0.688,-0.621)</text>
<text class="ax" x="875.6" y="747.8" text-anchor="middle" textLength="79.1" lengthAdjust="spacingAndGlyphs">[-0.287,-0.22)</text>
<text class="ax" x="970.2" y="747.8" text-anchor="middle" textLength="77.1" lengthAdjust="spacingAndGlyphs">[0.114,0.181)</text>
<text class="ax" x="1064.2" y="747.8" text-anchor="middle" textLength="77.1" lengthAdjust="spacingAndGlyphs">[0.515,0.582)</text>
<text class="ax" x="915" y="779.7" text-anchor="middle">return</text>
<text class="ax" transform="translate(614 593) rotate(-90)" text-anchor="middle">frequency</text>
<rect x="993.5" y="465.5" width="173" height="48" fill="#fff" stroke="#000"/>
<rect x="1005.5" y="477.5" width="9" height="8" fill="#0000FF" stroke="#000"/>
<rect x="1005.5" y="493.5" width="9" height="8" fill="#FFFF00" stroke="#000"/>
<text class="ax" x="1026.3" y="486.7" textLength="125" lengthAdjust="spacingAndGlyphs">BCLI return frequency</text>
<text class="ax" x="1026.3" y="502.6" textLength="133.9" lengthAdjust="spacingAndGlyphs">GSPC return frequency</text>
</g>
<text class="ti" x="314.7" y="40" text-anchor="middle" textLength="213.5" lengthAdjust="spacingAndGlyphs">BCLI stock price time-series</text>
<text class="ti" x="914.7" y="40" text-anchor="middle" textLength="343.2" lengthAdjust="spacingAndGlyphs">BCLI versus S&amp;P500 stock return time-series</text>
<text class="ti" x="314.7" y="440" text-anchor="middle" textLength="346.9" lengthAdjust="spacingAndGlyphs">BCLI versus S&amp;P500 stock return distribution</text>
<text class="ti" x="914.7" y="440" text-anchor="middle" textLength="381.8" lengthAdjust="spacingAndGlyphs">BCLI versus S&amp;P500 return frequency distribution</text>
</svg>
</body></html>
